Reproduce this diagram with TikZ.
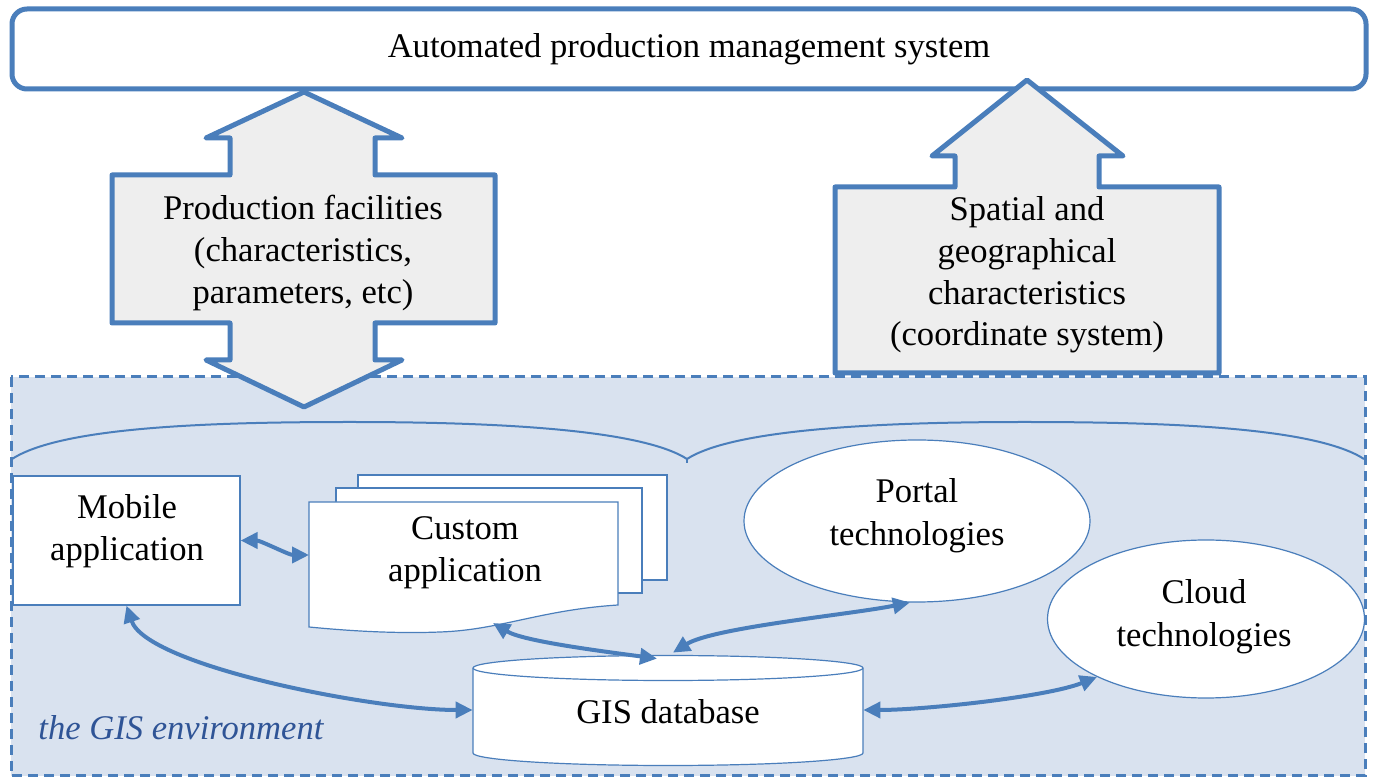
\documentclass[tikz,border=0pt]{standalone}
\usepackage{fontspec}
\setmainfont{Liberation Serif}
\usetikzlibrary{shapes.geometric,arrows.meta}
\definecolor{bl}{HTML}{4A7EBB}
\definecolor{envbg}{HTML}{D9E2EF}
\definecolor{agray}{HTML}{EEEEEE}
\definecolor{envtxt}{HTML}{2F5496}
\begin{document}
\begin{tikzpicture}[x=0.5pt,y=-0.5pt,
  txt/.style={font=\fontsize{17.3}{20.8}\selectfont, align=center, inner sep=0pt},
  bigborder/.style={draw=bl, line width=2.5pt, line join=round},
  wbox/.style={draw=bl, line width=0.6pt, fill=white},
  conn/.style={draw=bl, line width=2pt, {Triangle[length=8.5pt,width=8pt]}-{Triangle[length=8.5pt,width=8pt]}},
]
\useasboundingbox (0,0) rectangle (1376,779);

% top system box
\node[bigborder, fill=white, rounded corners=7.5pt, minimum width=677pt, minimum height=40pt, txt] (ams) at (689,49) {Automated production management system};

% GIS environment region
\draw[draw=bl, fill=envbg, line width=1.5pt, dash pattern=on 5pt off 3pt] (11,377) rectangle (1365,776);

% left double arrow callout
\draw[bigborder, fill=agray] (304,92) -- (402,138) -- (375,138) -- (375,175) -- (495,175) -- (495,323) -- (375,323) -- (375,360) -- (402,360) -- (304,407) -- (206,360) -- (230,360) -- (230,323) -- (112,323) -- (112,175) -- (230,175) -- (230,138) -- (206,138) -- cycle;
\node[txt] (prodtxt) at (303,253) {Production facilities\\(characteristics,\\parameters, etc)};

% right up arrow callout
\draw[bigborder, fill=agray] (1027,80) -- (1123,156) -- (1099,156) -- (1099,187) -- (1219,187) -- (1219,373) -- (835,373) -- (835,187) -- (955,187) -- (955,156) -- (932,156) -- cycle;
\node[txt] (spattxt) at (1027,275) {Spatial and\\geographical\\characteristics\\(coordinate system)};

% brace
\draw[bl, line width=1pt] (12,459) .. controls (60,428) and (200,422) .. (350,422) .. controls (520,422) and (645,432) .. (687,459) .. controls (729,432) and (854,422) .. (1024,422) .. controls (1174,422) and (1316,428) .. (1364,459);
\draw[bl, line width=1pt] (687,458) -- (687,463);

% mobile application
\node[wbox, minimum width=113.5pt, minimum height=64.5pt, inner sep=0pt] (mobile) at (126.5,540.5) {};
\node[txt] (mobiletxt) at (127,531) {Mobile\\application};

% custom application (multi-document)
\draw[wbox] (358,475) rectangle (667,580);
\draw[wbox] (336,488) rectangle (642,593);
\node[inner sep=0pt, outer sep=0pt, minimum width=154.5pt, minimum height=62.5pt] (custom) at (463.5,564.5) {};
\draw[wbox] (custom.north west) -- (custom.north east) -- (618,605) .. controls (540,610) and (500,630) .. (440,632) .. controls (390,634) and (340,630) .. (custom.south west) -- cycle;
\node[txt] (customtxt) at (465,553) {Custom\\application};
\coordinate (custom-w) at (309,555);
\coordinate (custom-s) at (493,623);

% portal technologies
\node[wbox, ellipse, minimum width=173pt, minimum height=81pt, inner sep=0pt] (portal) at (917,521) {};
\node[txt, font=\fontsize{17.3}{21.5}\selectfont] (portaltxt) at (917,516) {Portal\\technologies};

% cloud technologies
\node[wbox, ellipse, minimum width=158.5pt, minimum height=79pt, inner sep=0pt] (cloud) at (1206,619) {};
\node[txt, font=\fontsize{17.3}{21.5}\selectfont] (cloudtxt) at (1204,617) {Cloud\\technologies};

% GIS database cylinder
\draw[wbox] (473,668) -- (473,753) arc[start angle=180, end angle=360, x radius=97.5pt, y radius=6.25pt] -- (863,668) arc[start angle=0, end angle=180, x radius=97.5pt, y radius=6.25pt] -- cycle;
\draw[bl, line width=0.6pt] (473,668) arc[start angle=180, end angle=360, x radius=97.5pt, y radius=6.25pt];
\node[txt, minimum width=195pt, minimum height=55pt] (gis) at (668,712) {GIS database};

% environment label
\node[txt, font=\fontsize{17.3}{20.5}\selectfont\itshape, text=envtxt, anchor=west] (envlbl) at (38,728) {the GIS environment};

% connectors
\draw[conn] (mobile.east) .. controls +(20,0) and +(-20,0) .. (custom-w);
\draw[conn] (mobile.south) .. controls +(20,60) and +(-100,0) .. ([yshift=1pt]gis.west);
\draw[conn] (custom-s) .. controls +(30,18) and +(-60,-8) .. ([xshift=-5.5pt,yshift=-1pt]gis.north);
\draw[conn] ([xshift=2.5pt,yshift=2pt]gis.north) .. controls +(40,-25) and +(-60,12) .. (portal.265);
\draw[conn] ([yshift=1pt]gis.east) .. controls +(60,0) and +(-50,20) .. (cloud.208);
\end{tikzpicture}
\end{document}
